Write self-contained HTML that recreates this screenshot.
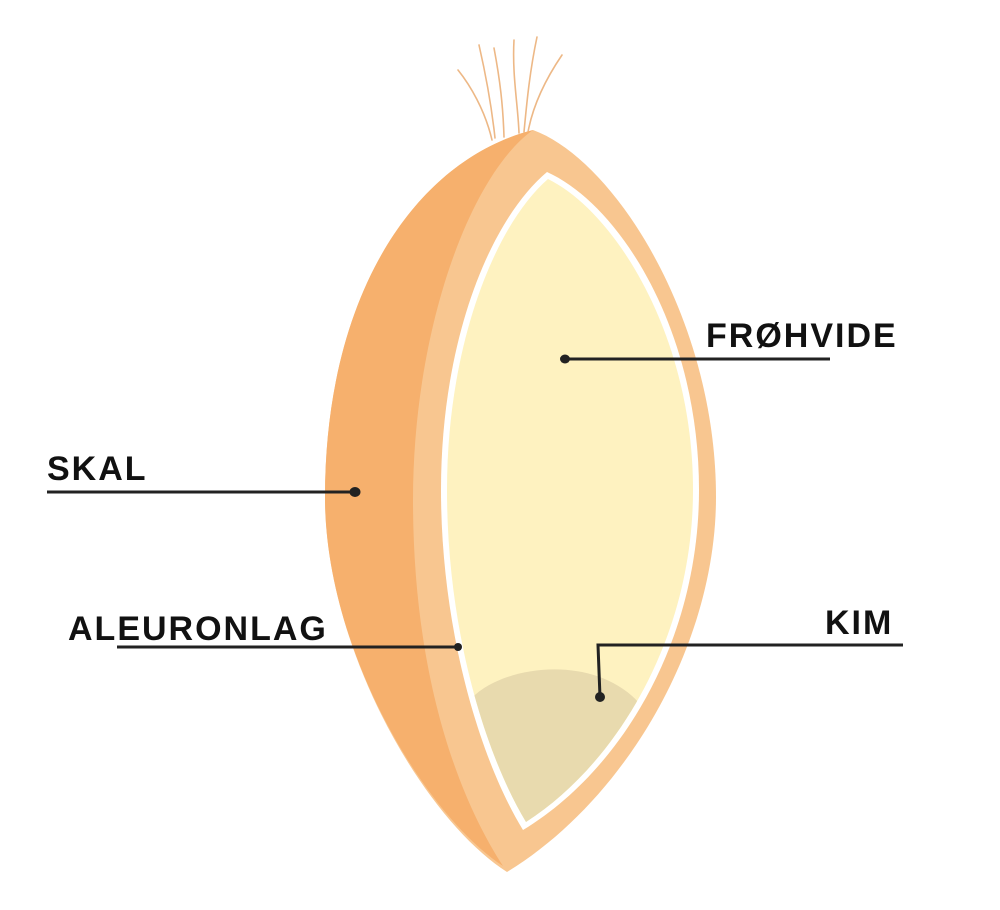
<!DOCTYPE html>
<html><head><meta charset="utf-8"><style>
html,body{margin:0;padding:0;background:#fff;width:1000px;height:910px;overflow:hidden}
svg{display:block}
text{font-family:"Liberation Sans",Arial,sans-serif;font-weight:bold;fill:#111;letter-spacing:2px}
</style></head><body>
<svg width="1000" height="910" viewBox="0 0 1000 910" xmlns="http://www.w3.org/2000/svg">
<g fill="none" stroke="#EDB886" stroke-width="1.6" stroke-linecap="round">
<path d="M492,140 C485,110 470,85 458,70"/>
<path d="M495,138 C492,110 487,80 479,45"/>
<path d="M504,137 C503,105 500,80 494,48"/>
<path d="M519,133 C518,105 512,75 514,40"/>
<path d="M524,132 C527,100 530,70 537,37"/>
<path d="M528,132 C533,105 545,80 562,55"/>
</g>
<path d="M533,130 C615,160 716,320 716,497 C716,645 625,800 507,872 C425,820 325,650 325,497 C325,295 415,160 533,130 Z" fill="#F8C690"/>
<path d="M533,130 C470,175 413,330 413,500 C413,680 460,800 503,866 C425,815 325,650 325,497 C325,295 415,160 533,130 Z" fill="#F6B06D"/>
<path d="M547,172 C620,205 699,330 699,490 C699,640 622,770 523,830 C480,760 441,630 441,490 C441,340 490,220 547,172 Z" fill="#FFFFFF"/>
<path d="M548,179 C615,212 693,335 693,490 C693,635 619,762 526,822 C484,752 447,628 447,490 C447,345 495,225 548,179 Z" fill="#FEF2C0"/>
<clipPath id="c"><path d="M548,179 C615,212 693,335 693,490 C693,635 619,762 526,822 C484,752 447,628 447,490 C447,345 495,225 548,179 Z"/></clipPath>
<path clip-path="url(#c)" d="M470,700 C500,665 600,650 645,710 L650,850 L470,850 Z" fill="#E8DAAE"/>
<g stroke="#222" stroke-width="3" fill="none">
<line x1="565" y1="359" x2="830" y2="359"/>
<line x1="47" y1="492" x2="355" y2="492"/>
<line x1="117" y1="647" x2="458" y2="647"/>
<polyline points="903,645 598,645 600,697"/>
</g>
<g fill="#222">
<ellipse cx="565" cy="359" rx="5" ry="4.5"/>
<ellipse cx="355" cy="492" rx="5.5" ry="5"/>
<circle cx="458" cy="647" r="4"/>
<circle cx="600" cy="697" r="5"/>
</g>
<text x="706" y="347" font-size="34">FRØHVIDE</text>
<text x="47" y="480" font-size="34">SKAL</text>
<text x="68" y="640" font-size="34">ALEURONLAG</text>
<text x="825" y="634" font-size="34">KIM</text>
</svg>
</body></html>
